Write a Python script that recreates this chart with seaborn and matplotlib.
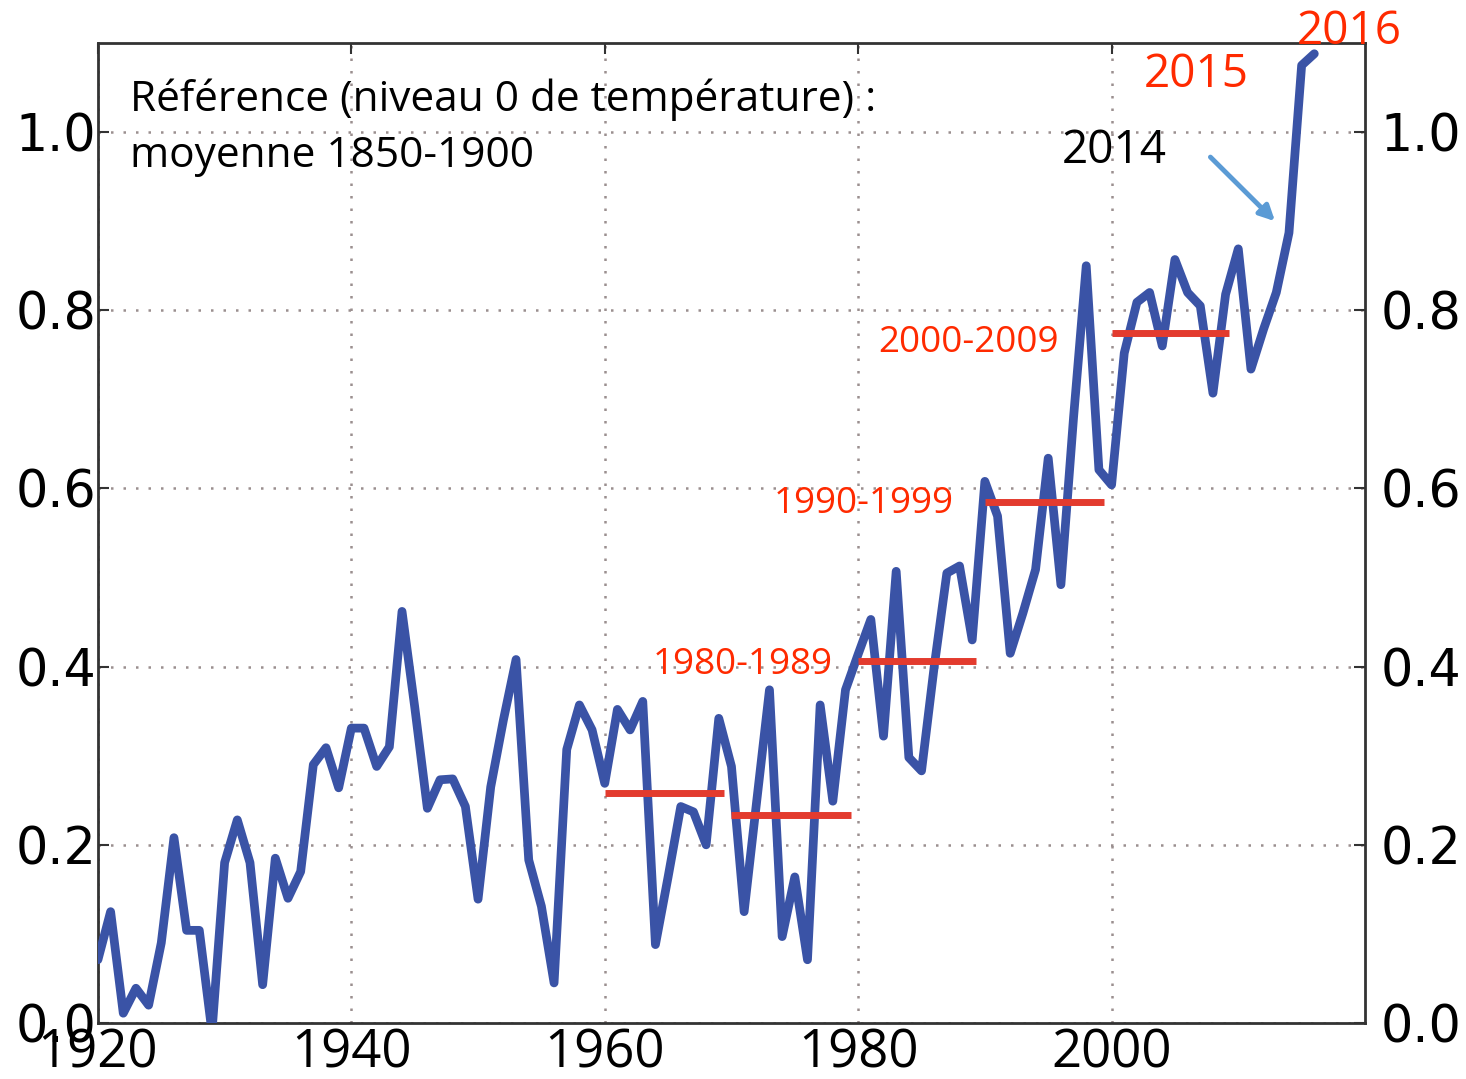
import numpy as np
import pandas as pd
import matplotlib
matplotlib.use("Agg")
import matplotlib.pyplot as plt
import seaborn as sns

# ---- data ----
years = list(range(1920, 2017))
anomaly = [
    0.071, 0.125, 0.011, 0.039, 0.020, 0.090, 0.208, 0.104, 0.104, -0.010,   # 1920-1929
    0.180, 0.228, 0.180, 0.043, 0.185, 0.140, 0.170, 0.290, 0.309, 0.264,    # 1930-1939
    0.331, 0.331, 0.288, 0.310, 0.462, 0.355, 0.241, 0.273, 0.274, 0.243,    # 1940-1949
    0.139, 0.265, 0.340, 0.408, 0.183, 0.131, 0.045, 0.307, 0.357, 0.329,    # 1950-1959
    0.269, 0.352, 0.329, 0.361, 0.088, 0.164, 0.243, 0.237, 0.200, 0.342,    # 1960-1969
    0.288, 0.125, 0.250, 0.374, 0.097, 0.164, 0.071, 0.357, 0.249, 0.374,    # 1970-1979
    0.414, 0.453, 0.322, 0.507, 0.298, 0.283, 0.400, 0.505, 0.513, 0.430,    # 1980-1989
    0.608, 0.569, 0.415, 0.460, 0.509, 0.634, 0.492, 0.680, 0.850, 0.621,    # 1990-1999
    0.604, 0.752, 0.809, 0.820, 0.760, 0.857, 0.820, 0.805, 0.707, 0.818,    # 2000-2009
    0.869, 0.734, 0.779, 0.820, 0.887, 1.075, 1.088,                         # 2010-2016
]

decade_start = [1960, 1970, 1980, 1990, 2000]
decade_end = [1969.4, 1979.4, 1989.3, 1999.4, 2009.3]
decade_mean = [0.258, 0.233, 0.406, 0.585, 0.775]

decade_labels = ["1980-1989", "1990-1999", "2000-2009"]
decade_label_x = [1963.8, 1973.3, 1981.6]
decade_label_y = [0.392, 0.573, 0.753]

year_labels = ["2014", "2015", "2016"]
year_label_x = [1996.1, 2002.5, 2014.6]
year_label_y = [0.965, 1.051, 1.099]
year_label_colors = ["black", "#ff2a00", "#ff2a00"]

ref_lines = ["Référence (niveau 0 de température) :", "moyenne 1850-1900"]
ref_x = 1922.5
ref_y = [1.024, 0.961]

xticks = [1920, 1940, 1960, 1980, 2000]
yticks = [0.0, 0.2, 0.4, 0.6, 0.8, 1.0]

# ---- style ----
sns.set_style("white")
plt.rcParams["font.family"] = ["DejaVu Sans"]

fig = plt.figure(figsize=(14.66, 10.79), dpi=100)
ax = fig.add_axes([0.0668, 0.0519, 0.8643, 0.9082])

df = pd.DataFrame({"year": years, "anomaly": anomaly})
sns.lineplot(data=df, x="year", y="anomaly", ax=ax, color="#3a53a6",
             linewidth=6.3, zorder=3)

ax.hlines(decade_mean, decade_start, decade_end, colors="#e33b2e",
          linewidth=5, zorder=4)

ax.set_xlim(1920, 2020)
ax.set_ylim(0, 1.1)
ax.set_xlabel("")
ax.set_ylabel("")

ax.set_xticks(xticks)
ax.set_yticks(yticks)
ax.set_xticklabels([str(t) for t in xticks], fontfamily="Open Sans",
                   fontsize=38, color="black")
ax.set_yticklabels([f"{t:.1f}" for t in yticks], fontfamily="DejaVu Sans",
                   fontsize=36.5, color="black")

ax.tick_params(axis="both", direction="in", length=8, width=1.5, color="#333333",
               top=True, right=True)
ax.tick_params(axis="x", pad=3)
ax.tick_params(axis="y", pad=1)

# right-hand labels on a twin axis sharing the same scale
ax2 = ax.twinx()
ax2.set_ylim(ax.get_ylim())
ax2.set_yticks(yticks)
ax2.set_yticklabels([f"{t:.1f}" for t in yticks], fontfamily="DejaVu Sans",
                    fontsize=36.5, color="black")
ax2.tick_params(axis="y", direction="in", length=8, width=1.5, color="#333333",
                pad=11)
ax2.grid(False)
for sp in ax2.spines.values():
    sp.set_visible(False)

ax.grid(True, linestyle=(0, (1, 4)), color="#9a8f8f", linewidth=1.8, zorder=0)

for sp in ax.spines.values():
    sp.set_visible(True)
    sp.set_color("#333333")
    sp.set_linewidth(2)

for lab, x, y in zip(decade_labels, decade_label_x, decade_label_y):
    ax.text(x, y, lab, color="#ff2a00", fontsize=26.5, fontfamily="Open Sans",
            ha="left", va="baseline", zorder=5)

for lab, x, y, c in zip(year_labels, year_label_x, year_label_y, year_label_colors):
    ax.text(x, y, lab, color=c, fontsize=33, fontfamily="Open Sans",
            ha="left", va="baseline", zorder=5, clip_on=False)

for lab, y in zip(ref_lines, ref_y):
    ax.text(ref_x, y, lab, color="black", fontsize=30.5, fontfamily="Open Sans",
            ha="left", va="baseline", zorder=5)

ax.annotate("", xy=(2012.9, 0.90), xytext=(2007.8, 0.972),
            arrowprops=dict(arrowstyle="-|>,head_length=0.9,head_width=0.45",
                            color="#5b9bd5", lw=3.5, shrinkA=0, shrinkB=0),
            zorder=5)

fig.savefig("out.png", dpi=100)
